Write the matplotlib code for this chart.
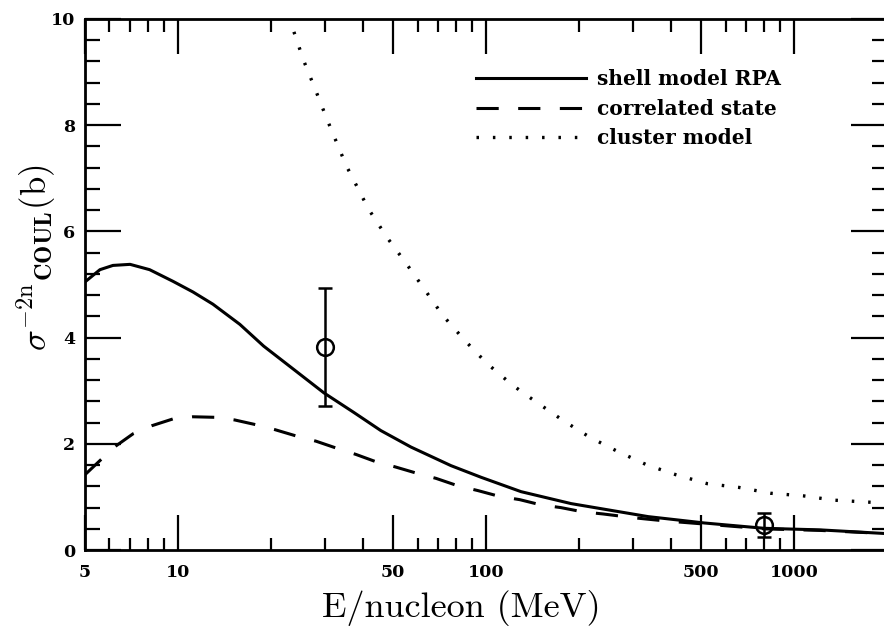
import matplotlib
matplotlib.use("Agg")
import matplotlib.pyplot as plt
from matplotlib.ticker import FixedLocator, MultipleLocator, NullFormatter

plt.rcParams['mathtext.fontset'] = 'cm'
plt.rcParams['lines.scale_dashes'] = False

# shell model RPA
e_rpa = [5, 5.59, 6.16, 7.0, 8.1, 9.65, 11.2, 13.0, 15.9, 19.0, 23.8, 29.8, 37.3,
         45.6, 57.1, 77, 96.5, 130, 189, 336, 512, 800, 1218, 2000]
s_rpa = [5.05, 5.28, 5.36, 5.38, 5.28, 5.06, 4.86, 4.63, 4.25, 3.84, 3.40, 2.96, 2.59,
         2.25, 1.94, 1.59, 1.37, 1.10, 0.875, 0.63, 0.51, 0.41, 0.38, 0.31]

# correlated state
e_cor = [5, 5.6, 6.26, 7.16, 8.22, 9.65, 11.2, 13.2, 15.3, 17.95, 20.6, 24.5, 28.1,
         32.7, 37.9, 44.6, 50.5, 60.2, 68.9, 81.1, 94.2, 110.7, 128.6, 151, 175,
         206, 240, 300, 380, 512, 800, 1218, 2000]
s_cor = [1.42, 1.69, 1.95, 2.19, 2.34, 2.47, 2.51, 2.50, 2.45, 2.36, 2.27, 2.14, 2.05,
         1.92, 1.80, 1.65, 1.57, 1.44, 1.35, 1.21, 1.12, 1.01, 0.95, 0.85, 0.80,
         0.72, 0.68, 0.61, 0.55, 0.49, 0.40, 0.37, 0.31]

# cluster model
e_clu = [22.9, 25.6, 28.0, 30.6, 35.2, 41.6, 47.7, 54.9, 63.0, 72.4, 85.3, 100.5,
         120, 132, 179, 218, 267, 334, 413, 523, 662, 839, 1075, 1346, 1905]
s_clu = [10.05, 9.22, 8.66, 8.09, 7.24, 6.42, 5.89, 5.41, 4.92, 4.42, 3.95, 3.52,
         3.14, 2.96, 2.43, 2.12, 1.86, 1.60, 1.42, 1.25, 1.18, 1.07, 1.02, 0.94, 0.89]

# measured points
e_exp = [30, 800]
s_exp = [3.82, 0.47]
err_lo = [1.10, 0.22]
err_hi = [1.12, 0.22]

x_major = [5, 10, 50, 100, 500, 1000]
x_major_labels = ['5', '10', '50', '100', '500', '1000']
x_minor = [6, 7, 8, 9, 20, 30, 40, 60, 70, 80, 90, 200, 300, 400,
           600, 700, 800, 900, 2000]

fig = plt.figure(figsize=(8.84, 6.33), dpi=100)
ax = fig.add_axes([0.0962, 0.131, 0.907, 0.839])

ax.plot(e_rpa, s_rpa, color='black', lw=2.2, label='shell model RPA')
ax.plot(e_cor, s_cor, color='black', lw=2.2, dashes=(16, 14),
        label='correlated state')
ax.plot(e_clu, s_clu, color='black', lw=2.4, dashes=(1.8, 10),
        label='cluster model')
ax.errorbar(e_exp, s_exp, yerr=[err_lo, err_hi], fmt='o', ms=12,
            mfc='none', mec='black', mew=1.8, ecolor='black', elinewidth=1.8,
            capsize=5, capthick=1.8)

ax.set_xscale('log')
ax.set_xlim(5, 2000)
ax.set_ylim(0, 10)

ax.xaxis.set_major_locator(FixedLocator(x_major))
ax.xaxis.set_minor_locator(FixedLocator(x_minor))
ax.xaxis.set_minor_formatter(NullFormatter())
ax.set_xticklabels(x_major_labels)
ax.yaxis.set_major_locator(MultipleLocator(2))
ax.yaxis.set_minor_locator(MultipleLocator(0.4))

ax.tick_params(which='both', direction='in', top=True, right=True, width=1.6)
ax.tick_params(axis='x', which='major', length=25, pad=10)
ax.tick_params(axis='x', which='minor', length=9)
ax.tick_params(axis='y', which='major', length=26, pad=7)
ax.tick_params(axis='y', which='minor', length=11)
for lab in ax.get_xticklabels() + ax.get_yticklabels():
    lab.set_fontfamily('DejaVu Serif')
    lab.set_fontweight('bold')
    lab.set_fontsize(12.5)
for sp in ax.spines.values():
    sp.set_linewidth(2.0)

ax.set_xlabel('E/nucleon (MeV)', fontfamily='cmr10', fontsize=26)
ax.xaxis.set_label_coords(0.469, -0.075)
ax.set_ylabel(r'$\sigma^{-2\mathrm{n}}{}_{\mathbf{COUL}}\mathrm{(b)}$',
              fontsize=25)
ax.yaxis.set_label_coords(-0.034, 0.55)

ax.legend(loc='upper left', bbox_to_anchor=(0.487, 0.905), frameon=False,
          handlelength=5.5, handletextpad=0.55, labelspacing=0.47,
          borderpad=0, borderaxespad=0,
          prop={'family': 'DejaVu Serif', 'weight': 'bold', 'size': 14.5})

fig.savefig('out.png', dpi=100)
